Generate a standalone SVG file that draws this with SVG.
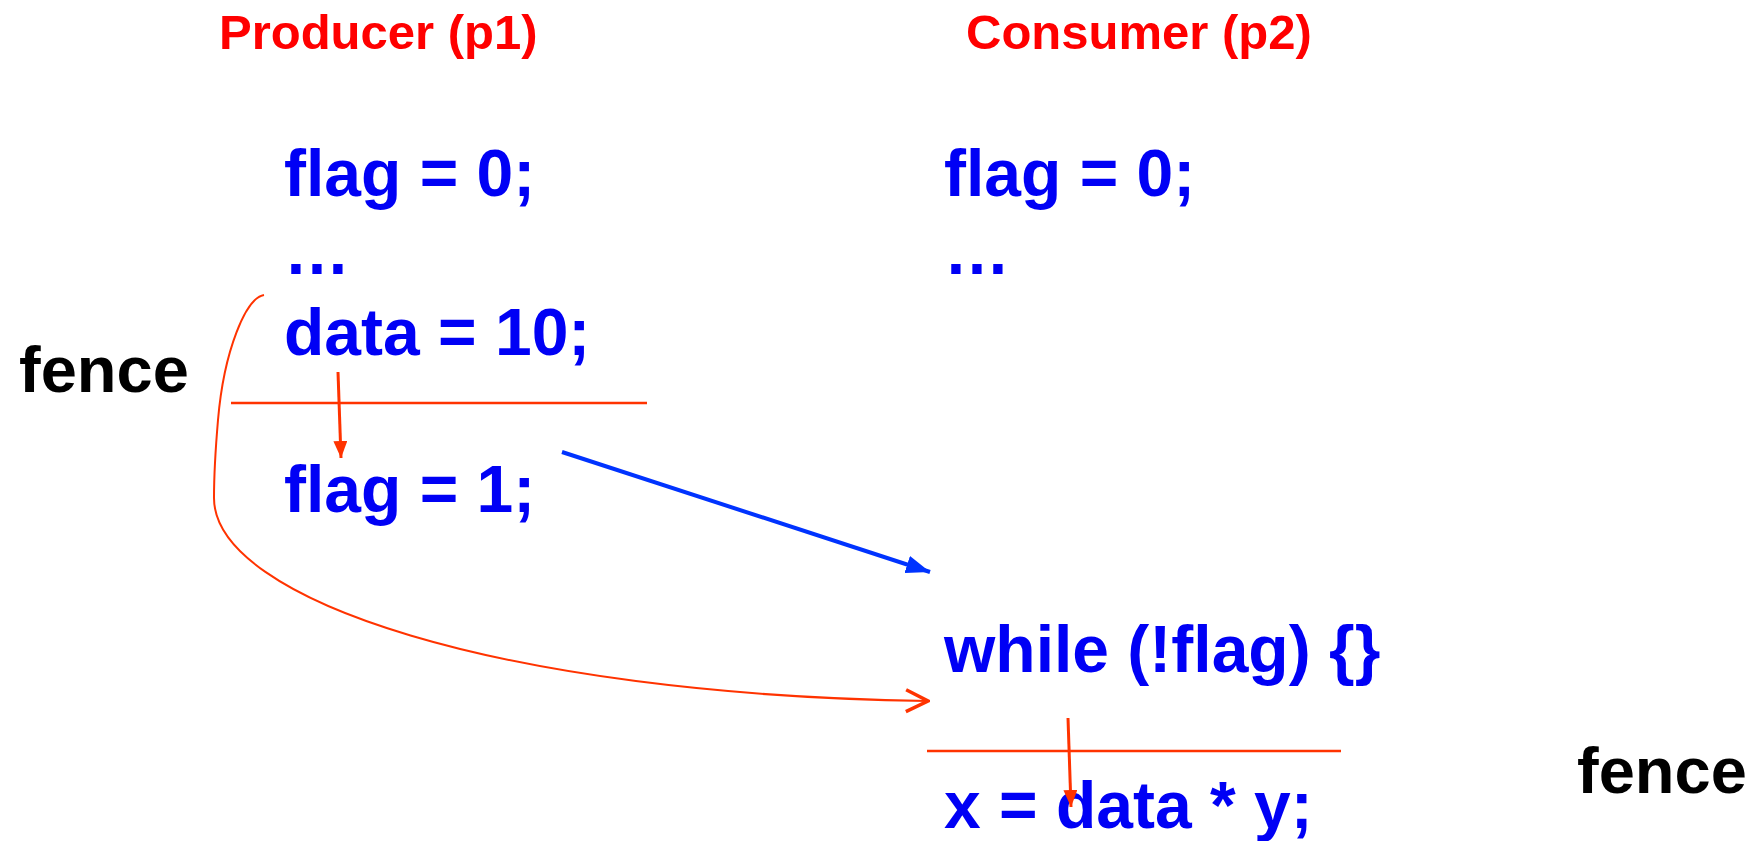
<svg xmlns="http://www.w3.org/2000/svg" width="1753" height="841" viewBox="0 0 1753 841">
<style>
.title{font-family:"Liberation Sans",Arial,sans-serif;font-weight:bold;font-size:49px;fill:#FF0000}
.code{font-family:"Liberation Sans",Arial,sans-serif;font-weight:bold;font-size:66px;fill:#0000F5}
.lbl{font-family:"Liberation Sans",Arial,sans-serif;font-weight:bold;font-size:65px;fill:#000000}
.fence{stroke:#FF3300;stroke-width:2.5;fill:none}
.red{stroke:#FF3300;stroke-width:3;fill:none}
.curve{stroke:#FF3300;stroke-width:2;fill:none}
.blue{stroke:#0033FF;stroke-width:4;fill:none}
</style>
<defs>
<marker id="redHead" markerUnits="userSpaceOnUse" markerWidth="17" markerHeight="14" refX="17" refY="7" orient="auto" viewBox="0 0 17 14">
<path d="M0,0 L17,7 L0,14 Z" fill="#FF3300"/>
</marker>
<marker id="blueHead" markerUnits="userSpaceOnUse" markerWidth="24" markerHeight="18" refX="24" refY="9" orient="auto" viewBox="0 0 24 18">
<path d="M0,0 L24,9 L0,18 Z" fill="#0033FF"/>
</marker>
<marker id="openHead" markerUnits="userSpaceOnUse" markerWidth="26" markerHeight="28" refX="24" refY="13" orient="auto" viewBox="0 0 26 26">
<path d="M2,2 L24,13 L2,24" fill="none" stroke="#FF3300" stroke-width="3.5"/>
</marker>
</defs>
<g id="title-producer"><text class="title" x="219" y="49">Producer (p1)</text></g>
<g id="title-consumer"><text class="title" x="966" y="49">Consumer (p2)</text></g>
<g id="p1-flag0"><text class="code" x="284" y="196">flag = 0;</text></g>
<g id="p1-dots"><text class="code" x="284" y="274">…</text></g>
<g id="p1-data"><text class="code" x="284" y="355">data = 10;</text></g>
<g id="p1-flag1"><text class="code" x="284" y="512">flag = 1;</text></g>
<g id="p2-flag0"><text class="code" x="944" y="196">flag = 0;</text></g>
<g id="p2-dots"><text class="code" x="944" y="274">…</text></g>
<g id="p2-while"><text class="code" x="944" y="672">while (!flag) {}</text></g>
<g id="p2-x"><text class="code" x="944" y="828">x = data * y;</text></g>
<g id="fence-left"><text class="lbl" x="19" y="392">fence</text></g>
<g id="fence-right"><text class="lbl" x="1577" y="793">fence</text></g>
<g id="connectors">
<line class="fence" x1="231" y1="403" x2="647" y2="403"/>
<line class="fence" x1="927" y1="751" x2="1341" y2="751"/>
<line class="red" x1="338" y1="372" x2="341" y2="458" marker-end="url(#redHead)"/>
<line class="red" x1="1068" y1="718" x2="1071" y2="807" marker-end="url(#redHead)"/>
<line class="blue" x1="562" y1="452" x2="930" y2="572" marker-end="url(#blueHead)"/>
<path class="curve" d="M264,295 C246,298 224,350 218,420 C215,455 214,480 214,498 C214,600 500,695 928,701" marker-end="url(#openHead)"/>
</g>
</svg>
